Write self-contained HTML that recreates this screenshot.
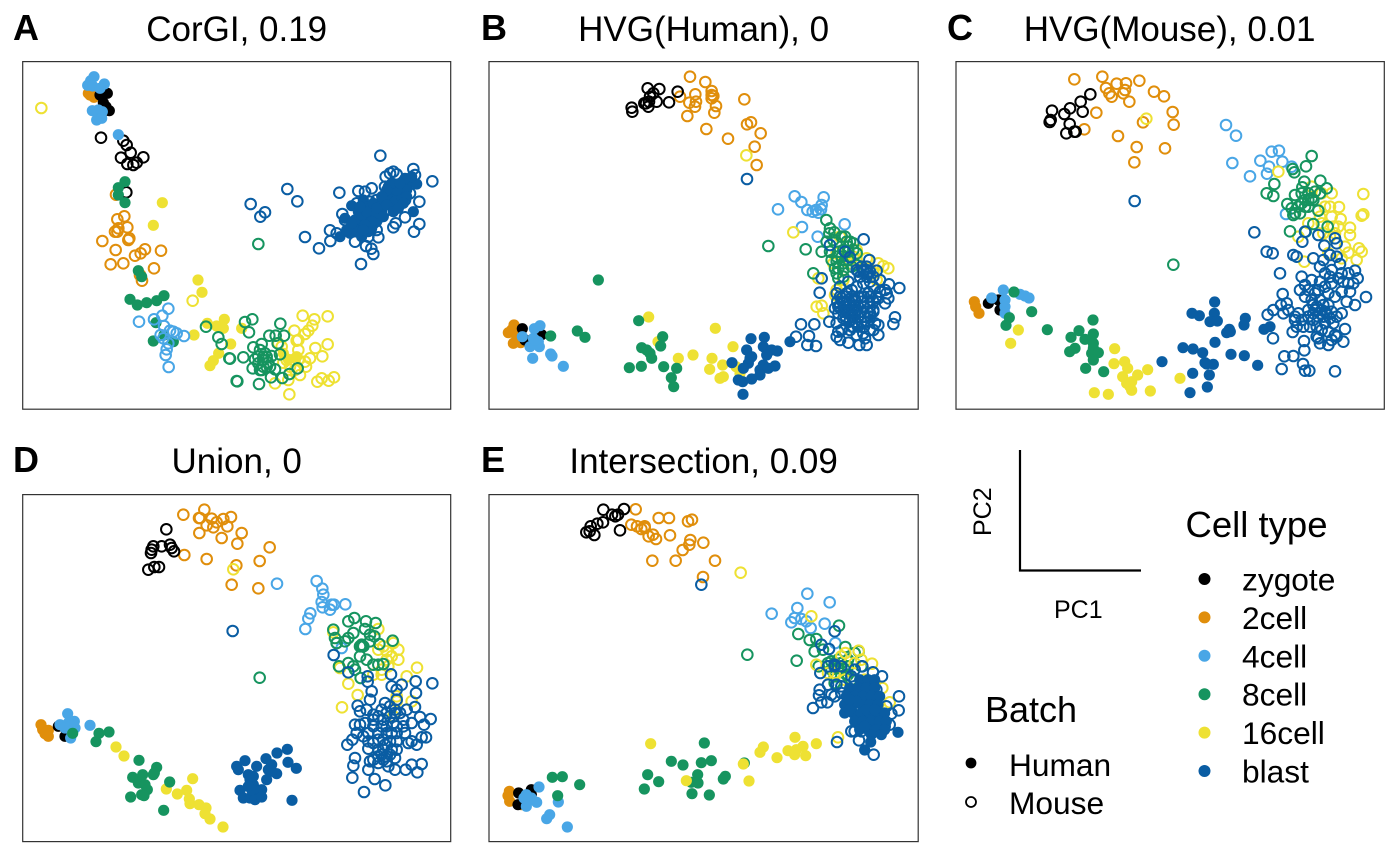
<!DOCTYPE html>
<html><head><meta charset="utf-8"><title>PCA panels</title>
<style>html,body{margin:0;padding:0;background:#fff}svg{display:block}text{font-family:"Liberation Sans",Arial,sans-serif;fill:#000}</style>
</head><body>
<svg id="chart" width="1400" height="865" viewBox="0 0 1400 865">
<g fill="none" stroke="#333" stroke-width="1.2">
<rect x="22.7" y="61.6" width="428" height="347.6"/>
<rect x="489" y="61.6" width="429.2" height="347.6"/>
<rect x="956" y="61.6" width="428.3" height="347.6"/>
<rect x="22.7" y="494.6" width="428" height="347"/>
<rect x="489" y="494.6" width="429.2" height="347"/>
</g>
<g id="points"></g>
<g font-size="36" font-weight="bold" style="font-weight:bold">
<text x="13" y="40">A</text>
<text x="481" y="40">B</text>
<text x="947" y="40">C</text>
<text x="13" y="472">D</text>
<text x="481" y="472">E</text>
</g>
<g font-size="35" text-anchor="middle">
<text x="236.7" y="41">CorGI, 0.19</text>
<text x="703.6" y="41">HVG(Human), 0</text>
<text x="1169.6" y="41">HVG(Mouse), 0.01</text>
<text x="236.7" y="473">Union, 0</text>
<text x="703.6" y="473">Intersection, 0.09</text>
</g>
<g>
<path d="M1020 450V570.5H1141" fill="none" stroke="#000" stroke-width="2.2"/>
<text x="1054" y="618" font-size="25">PC1</text>
<text transform="translate(991 536) rotate(-90)" font-size="25">PC2</text>
</g>
<g>
<text x="1185.5" y="537" font-size="36.5">Cell type</text>
<g id="typeLegend" font-size="31.7"></g>
</g>
<g>
<text x="985" y="722" font-size="36">Batch</text>
<circle cx="971" cy="763" r="5.4" fill="#000"/>
<text x="1009" y="776" font-size="31.7">Human</text>
<circle cx="971" cy="802" r="5" fill="none" stroke="#000" stroke-width="1.8"/>
<text x="1009" y="814" font-size="31.7">Mouse</text>
</g>
</svg>
<script>
const cellTypes = ['zygote','2cell','4cell','8cell','16cell','blast'];
const typeColors = ['#000000','#E08E0B','#49A6E6','#16945F','#EEE133','#0A5DA3'];

// Panel A (left view)
const aZygoteM=[[243,233],[310,242],[320,255],[332,278],[303,293],[370,292],[322,312],[340,315],[350,308],[319,397]];
const aZygoteH=[[262,100],[250,128],[258,140],[268,152],[240,105]];
const a2cellH=[[205,100],[222,112],[240,100],[220,95],[210,105],[232,100]];
const a2cellM=[[288,404],[313,469],[292,478],[322,502],[295,505],[285,515],[292,515],[328,535],[325,540],[247,543],[287,570],[375,568],[362,580],[345,587],[423,572],[272,613],[310,610],[402,625],[360,645],[366,662]];
const a4cellH=[[222,50],[212,62],[203,76],[218,78],[253,72],[240,85],[235,150],[217,152],[247,155],[230,180],[245,175],[295,224]];
const a4cellM=[[445,746],[357,785],[402,778],[427,767],[432,798],[422,825],[450,812],[470,820],[492,828],[445,850],[440,868],[437,885],[446,921],[430,835],[460,815]];
const a8cellH=[[315,365],[295,383],[295,405],[315,428],[355,632],[365,650],[330,718],[352,735],[380,728],[410,722],[432,707],[408,788],[400,843],[432,825],[460,845]];
const a8cellM=[[558,800],[595,832],[605,852],[628,895],[650,963]];
const a16cellH=[[427,428],[400,496],[534,660],[546,697],[522,825],[562,790],[613,778],[590,798],[610,805],[632,852],[596,880],[580,902],[570,917],[665,805]];
const a16cellM=[[64,144],[518,722]];
// Panel A (right view)
const ar8cellM=[[45,546],[67,538],[57,577],[151,551],[118,587],[137,587],[162,587],[143,610],[70,622],[95,612],[90,630],[105,640],[125,648],[150,643],[40,652],[0,656],[75,658],[85,670],[100,660],[115,668],[68,685],[95,690],[110,680],[135,688],[203,685],[178,702],[157,714],[123,712],[22,724],[87,732],[85,312],[100,650],[85,650],[120,680],[100,680],[110,650],[90,690]];
const ar16cellM=[[218,527],[293,529],[253,538],[247,557],[235,572],[225,582],[193,572],[200,602],[205,600],[293,613],[256,624],[277,649],[205,630],[240,655],[225,665],[228,680],[205,660],[190,660],[170,660],[160,668],[210,705],[175,720],[135,730],[178,763],[262,725],[275,715],[296,722],[312,712],[145,610],[155,620],[180,680],[195,690]];
const ar16cellH=[[175,658],[200,650],[160,640]];
const arBlastM=[[451,47],[172,147],[202,184],[62,192],[105,217],[91,230],[225,291],[267,325],[301,303],[300,271],[328,158],[393,372],[430,342],[424,326],[408,318],[607,124],[568,185],[568,252],[552,275],[550,87],[555,105],[490,95],[500,103],[467,110],[425,145],[405,155],[385,153],[380,190],[337,222],[345,240],[320,280],[375,305],[445,292],[490,262],[497,250],[525,232],[525,180],[540,160],[465,140],[480,100],[400,200],[420,185],[440,180],[460,170],[475,160],[490,150],[510,140],[520,125],[410,240],[430,250],[450,230],[470,210],[490,200],[510,190],[395,280],[415,290],[440,270]];
const arBlastH=[[365,197],[345,235],[330,290],[360,280],[380,260],[390,235],[405,215],[420,230],[400,250],[410,270],[395,290],[430,210],[445,195],[460,185],[475,165],[490,175],[505,165],[520,150],[535,130],[560,132],[550,215],[475,140],[510,195],[455,215],[440,245],[425,265],[400,180],[415,200],[385,215],[375,240],[395,225],[410,215],[430,190],[450,200],[465,190],[480,185],[495,185],[515,170],[530,150],[500,150],[485,130],[470,150],[455,170],[440,220],[425,245],[405,255],[385,275],[370,265],[415,275],[440,205],[470,195],[530,170],[520,190],[490,215],[505,205],[545,110],[525,115],[510,130],[460,230],[390,200],[400,270],[350,270],[365,250]];

// Panel B
const bZygoteM=[[425,143],[427,155],[463,130],[473,85],[508,87],[563,95],[537,127],[500,125],[480,110],[490,100],[475,140],[468,130],[477,125]];
const bZygoteH=[[97,806],[155,824],[105,840]];
const b2cellM=[[600,50],[646,66],[665,93],[616,103],[570,110],[665,105],[670,108],[665,115],[678,138],[598,128],[618,125],[615,140],[673,158],[592,168],[763,118],[771,193],[783,187],[812,220],[649,207],[714,236],[794,260],[800,315]];
const b2cellH=[[72,795],[55,818],[65,810],[70,850],[92,848],[80,830]];
const b4cellM=[[914,409],[934,426],[1001,412],[864,448],[995,435],[952,450],[968,455],[985,458],[978,450],[993,448],[936,501],[1064,493],[983,530]];
const b4cellH=[[150,797],[133,806],[97,830],[130,835],[145,845],[120,860],[148,860],[128,895],[182,882],[186,888],[220,919],[135,840]];
const b8cellM=[[1009,480],[1020,505],[1018,520],[1033,517],[835,558],[947,568],[1010,545],[995,575],[1020,575],[1065,530],[1080,545],[1090,550],[1060,570],[1075,575],[1040,605],[1060,610],[1045,625],[1060,630],[1085,620],[1045,655],[1060,650],[970,640],[1100,615],[1030,540],[1040,590],[1055,590],[1070,545],[1090,570],[1055,530],[1040,640],[1075,600],[1100,580],[1025,600],[1035,625],[1045,575],[1075,560]];
const b8cellH=[[325,660],[446,782],[518,830],[262,813],[285,832],[182,828],[455,863],[470,870],[480,880],[485,895],[512,858],[418,923],[454,919],[521,920],[560,925],[544,953],[551,980]];
const b16cellM=[[769,286],[910,517],[1030,610],[1100,570],[1130,595],[1165,610],[1180,618],[1195,625],[1040,690],[1035,705],[980,740],[995,737],[1000,760],[985,655],[1160,660],[1050,530],[1090,590],[1080,610],[1060,660],[1040,580],[1100,600],[1150,640]];
const b16cellH=[[476,771],[504,845],[565,895],[609,885],[676,805],[729,860],[666,895],[698,915],[659,928],[738,920],[700,950],[690,955],[750,940]];
const bBlastM=[[771,357],[1121,538],[1020,555],[1065,575],[1080,592],[1138,600],[995,655],[989,698],[1228,684],[1197,673],[1160,632],[1190,700],[1185,730],[1215,772],[1210,792],[933,793],[973,793],[1018,785],[918,830],[957,828],[952,855],[978,858],[1040,830],[1050,840],[1075,848],[1108,855],[1130,855],[1165,825],[1165,795],[1155,790],[1040,700],[1055,715],[1045,740],[1060,730],[1070,700],[1085,690],[1100,680],[1120,670],[1140,665],[1150,680],[1135,700],[1115,710],[1095,720],[1080,735],[1065,750],[1045,760],[1060,775],[1085,760],[1100,750],[1120,740],[1150,725],[1165,715],[1170,695],[1100,630],[1120,630],[1110,650],[1135,640],[1080,780],[1100,790],[1125,770],[1140,760],[1080,810],[1100,825],[1120,820],[1055,810],[1050,680],[1075,665],[1035,745],[1150,750],[1090,770],[1105,770],[1095,740],[1085,750],[1075,760],[1090,800],
[1050,710],[1068,710],[1086,710],[1104,710],[1122,710],[1140,710],[1158,710],[1042,725],[1060,725],[1078,725],[1096,725],[1114,725],[1132,725],[1150,725],[1050,740],[1068,740],[1086,740],[1104,740],[1122,740],[1140,740],[1060,755],[1078,755],[1096,755],[1114,755],[1132,755],[1150,755],[1068,770],[1086,770],[1104,770],[1122,770],[1140,770],[1078,785],[1096,785],[1114,785],[1132,785],[1086,800],[1104,800],[1122,800],[1115,620],[1130,620],[1105,635],[1120,635],[1140,635],[1110,650],[1130,650],[1150,650],[1170,660],[1185,690],[1195,715],[1040,790],[1045,815],[1140,810],[1150,810],[1125,835]];
const bBlastH=[[783,836],[823,832],[770,870],[820,860],[862,873],[900,845],[845,870],[785,890],[830,885],[726,908],[775,910],[820,915],[855,918],[760,925],[810,930],[835,925],[745,960],[758,965],[785,957],[810,945],[759,1003],[780,895]];

// Panel C
const cZygoteM=[[406,103],[377,125],[345,145],[291,152],[328,162],[383,155],[287,180],[284,186],[344,192],[334,220],[358,215],[362,215]];
const cZygoteH=[[100,730],[135,750],[130,720]];
const c2cellM=[[358,58],[442,50],[453,84],[485,71],[513,70],[553,62],[510,90],[505,100],[463,100],[470,110],[597,95],[627,109],[523,125],[424,158],[653,156],[656,194],[564,187],[388,208],[489,228],[545,261],[630,265],[538,307]];
const c2cellH=[[58,725],[62,740],[72,760]];
const c4cellM=[[813,195],[843,227],[832,309],[950,275],[972,272],[982,305],[916,302],[942,320],[936,341],[885,349],[1010,320],[993,462]];
const c4cellH=[[145,690],[110,714],[195,703],[210,708],[222,714],[150,720],[150,740],[150,760]];
const c8cellM=[[1070,288],[1053,319],[1013,327],[1018,337],[1048,365],[958,372],[1096,362],[935,400],[955,408],[1042,382],[1115,385],[1020,405],[1060,400],[1080,395],[1075,420],[997,432],[1040,430],[1060,440],[1090,452],[1020,460],[1015,465],[1050,420],[1030,440],[1075,492],[1118,500],[1005,514],[1052,515],[655,614],[1040,400],[1050,440],[1070,415],[1095,400],[1010,445],[1035,460],[1060,420]];
const c8cellH=[[177,696],[230,755],[163,773],[153,796],[277,809],[414,780],[372,812],[348,832],[415,822],[390,838],[415,850],[360,865],[344,875],[415,865],[410,880],[430,878],[415,900],[392,925],[446,935]];
const c16cellM=[[574,176],[970,335],[1225,402],[1225,463],[1220,467],[1100,400],[1130,400],[1125,440],[1152,441],[1157,477],[1130,470],[1185,503],[1185,525],[1212,565],[1220,575],[1180,578],[1205,600],[1048,605],[1030,530],[1060,490],[1100,490],[1140,520],[1070,380],[1150,500],[1120,580],[1090,450],[1095,470],[1110,440],[1135,500],[1105,520],[1170,560],[1160,595],[1125,530]];
const c16cellH=[[190,810],[167,850],[479,866],[477,911],[509,905],[518,925],[578,929],[548,945],[503,950],[530,965],[515,970],[525,980],[530,991],[418,998],[460,1003],[586,993],[675,955]];
const cBlastM=[[539,423],[898,517],[1050,515],[1042,545],[1090,525],[1140,535],[1145,550],[1108,557],[935,575],[953,580],[1015,585],[1025,590],[1075,595],[1125,585],[1145,590],[1155,612],[1105,600],[1095,620],[1130,630],[1160,640],[1200,632],[1208,655],[975,640],[1040,650],[1050,675],[1035,690],[1095,665],[1130,670],[1165,665],[1185,695],[1200,735],[1233,711],[983,702],[1050,710],[1070,720],[1095,720],[1120,700],[1175,725],[995,730],[978,735],[955,750],[938,764],[985,760],[1020,770],[1060,750],[1080,750],[1100,750],[1130,755],[1020,780],[1045,800],[1075,780],[1110,790],[1135,790],[1170,807],[1013,816],[1085,830],[1140,825],[1165,845],[1120,855],[1047,843],[1048,871],[1015,888],[988,889],[954,835],[1044,912],[980,927],[1050,932],[1063,932],[1140,934],[1090,835],[1060,770],[1085,800],[1105,770],
[1070,660],[1110,640],[1150,655],[1180,670],[1060,690],[1090,690],[1140,710],[1160,695],[1085,740],[1105,735],[1115,760],[1090,770],[1065,800],[1100,810],[1120,815],[1130,840],[1095,850],[1025,800],[1040,780],[1145,770],[1160,760],[1000,750],[1030,760],[1120,735],[1080,700],[1110,680],[1125,650],[1180,640],[1195,670],[1145,830],[1075,735],[1095,760],[1110,755],[1125,775],[1075,760]];
const cBlastH=[[779,726],[711,760],[733,767],[778,760],[765,785],[787,783],[871,775],[867,795],[823,808],[815,818],[826,815],[945,800],[927,808],[780,847],[684,863],[714,867],[743,878],[828,883],[868,887],[621,905],[750,908],[775,913],[755,912],[908,916],[713,940],[763,945],[757,981],[705,998]];

// Panel D
const dZygoteM=[[439,109],[400,160],[425,160],[450,155],[393,180],[395,170],[455,165],[462,175],[385,230],[403,222],[417,222]];
const dZygoteH=[[115,700],[135,730]];
const d2cellM=[[490,65],[553,50],[537,75],[540,75],[575,77],[610,78],[633,72],[590,88],[560,97],[580,103],[622,100],[538,120],[605,135],[665,120],[652,152],[749,163],[493,186],[560,198],[719,204],[649,217],[635,275],[715,286]];
const d2cellH=[[63,695],[68,710],[85,712],[75,722],[85,730]];
const d4cellM=[[771,272],[890,264],[907,287],[910,305],[905,327],[908,343],[935,335],[930,350],[942,335],[976,334],[871,361],[865,377],[856,408],[965,465],[950,450]];
const d4cellH=[[143,662],[163,685],[120,695],[145,690],[155,715],[152,735],[210,697],[165,705],[135,705],[150,700]];
const d8cellM=[[985,385],[1003,375],[1038,385],[1067,390],[1035,408],[940,410],[1000,420],[945,435],[950,450],[985,435],[975,445],[1050,425],[1063,430],[1025,460],[1118,443],[1078,453],[1020,490],[1040,500],[985,510],[1000,520],[957,520],[1005,530],[1060,515],[1075,515],[1090,513],[1022,555],[1020,460],[719,554],[1030,460],[1025,455],[1050,445]];
const d8cellH=[[158,721],[237,721],[267,717],[228,746],[357,802],[410,823],[403,840],[400,845],[338,853],[368,845],[449,867],[355,870],[375,875],[382,890],[365,905],[372,908],[332,912],[431,952]];
const d16cellM=[[640,229],[1075,408],[940,418],[1135,470],[1100,475],[1075,470],[1135,500],[1100,500],[1191,524],[1160,550],[1085,545],[985,572],[1013,606],[966,643],[1130,610],[1130,625],[1175,625],[1120,670],[960,525],[1090,460],[1115,490],[1060,545],[1105,520],[1085,530],[1120,450]];
const d16cellH=[[288,762],[312,789],[518,857],[439,888],[500,892],[472,903],[508,918],[510,932],[537,935],[558,945],[555,962],[570,978],[609,1002]];
const dBlastM=[[638,414],[941,486],[985,538],[1043,550],[1113,544],[1043,566],[1187,565],[1237,571],[1145,575],[1115,580],[1130,590],[1188,600],[1055,595],[1050,620],[1130,620],[1013,638],[1020,655],[1095,630],[1185,642],[1232,678],[1200,672],[1175,690],[1212,695],[1005,695],[1020,695],[1060,665],[1075,670],[1100,660],[1125,650],[1060,700],[1085,700],[1120,690],[1150,680],[1030,730],[1045,720],[1075,740],[1100,720],[1130,720],[1165,750],[1190,755],[1205,733],[1218,733],[982,755],[997,740],[1045,767],[1090,770],[1130,770],[1100,790],[1005,795],[1000,818],[1060,800],[1075,810],[1105,820],[1125,830],[1157,830],[1175,815],[1205,813],[1192,838],[1045,830],[997,854],[1064,858],[1096,877],[1032,897],[1050,805],
[1040,650],[1085,650],[1110,670],[1140,660],[1160,650],[1060,680],[1090,680],[1130,700],[1100,700],[1075,720],[1115,720],[1090,740],[1130,745],[1060,750],[1110,745],[1075,770],[1115,770],[1075,790],[1090,800],[1125,795],[1035,690],[1155,720],[1175,745],[1045,745],[1010,720],[1150,700],[1110,640],[1125,660],[1095,755],[1110,785],[1085,785],[1100,805]];
const dBlastH=[[802,769],[771,780],[738,797],[675,803],[650,820],[655,830],[710,820],[755,815],[804,808],[829,826],[685,845],[770,842],[745,830],[740,860],[690,860],[700,875],[660,892],[725,890],[710,895],[670,915],[690,915],[705,920],[725,912],[816,922],[700,850],[695,890],[685,880],[755,835]];

// Panel E
const eZygoteM=[[346,50],[408,48],[372,65],[390,65],[382,70],[345,88],[328,92],[308,100],[295,118],[305,115],[319,126],[396,112]];
const eZygoteH=[[92,900],[130,890],[90,935],[130,905]];
const e2cellM=[[443,49],[512,75],[543,75],[600,85],[612,80],[430,95],[447,100],[470,100],[470,105],[460,108],[495,125],[482,130],[504,138],[546,127],[607,141],[604,155],[646,149],[584,171],[493,203],[563,203],[681,203],[645,252]];
const e2cellH=[[64,895],[60,908],[65,925],[100,935]];
const e4cellM=[[958,302],[1025,328],[851,362],[928,345],[920,375],[910,388],[940,378],[955,385],[968,405],[1010,392],[1042,450]];
const e4cellH=[[153,882],[115,905],[120,925],[130,915],[146,928],[115,940],[211,927],[185,965],[176,977],[238,1002],[108,915]];
const e8cellM=[[1053,398],[931,423],[965,441],[985,438],[980,475],[1072,462],[1112,475],[778,485],[926,503],[992,520],[1020,520],[1040,510],[1060,510],[1080,520],[1040,550],[1080,545],[1120,520],[1020,510],[1030,530],[1050,500],[1070,530],[1060,550],[1040,570],[1090,560],[1005,470],[1100,480],[1075,545],[1030,505],[1050,525],[1080,500]];
const e8cellH=[[649,750],[550,805],[585,816],[640,809],[670,803],[769,810],[479,845],[512,866],[469,888],[629,845],[610,868],[630,870],[612,902],[664,906],[712,850],[706,858],[193,853],[223,851],[275,875],[209,908]];
const e16cellM=[[758,239],[970,370],[1112,473],[1072,480],[985,515],[1152,512],[1040,540],[1100,510],[1183,585],[1205,628],[1050,733],[1160,570],[1100,560],[1060,490],[1120,500],[1020,540],[1130,560],[1150,590],[1170,640],[1070,560]];
const e16cellH=[[488,752],[921,733],[826,762],[816,778],[985,752],[945,760],[900,773],[925,770],[920,785],[867,794],[953,788],[766,813],[783,864],[595,863]];
const eBlastM=[[1040,415],[1000,455],[1023,468],[1123,520],[1040,515],[997,540],[1155,538],[1182,550],[1020,575],[995,590],[993,607],[1030,605],[1000,628],[1018,628],[975,645],[1233,610],[1232,652],[1210,662],[640,275],[1047,747],[1157,785],[1113,742],[1100,715],[1120,715],[1190,700],[1205,695],[1100,560],[1060,580],[1045,575],[1060,600],[1040,610],[1195,640],[1060,520],[1020,520],[1090,715],[1040,520],[1155,570],[1165,590],[1100,530],[1090,550]];
const eBlastH=[[1115,560],[1140,560],[1160,560],[1085,585],[1110,585],[1135,585],[1160,585],[1075,610],[1100,610],[1125,610],[1150,610],[1175,610],[1070,635],[1095,635],[1120,635],[1145,635],[1170,635],[1070,660],[1095,660],[1120,660],[1145,660],[1170,660],[1190,660],[1100,685],[1125,685],[1150,685],[1175,685],[1195,685],[1115,710],[1140,710],[1165,710],[1190,710],[1150,725],[1180,725],[1230,718],[1148,747],[1130,771],[1085,650],[1105,625],[1135,650],[1160,650],[1085,620],[1130,700]];

// Axis functions: each view has its own PC1/PC2 origin
const views = {a:[20,60], ar:[230,140], b:[490,60], c:[955,60], d:[20,493], e:[488,493]};
function xAxis(view, v){ return views[view][0] + v/3; }
function yAxis(view, v){ return views[view][1] + v/3; }

// Layer order: 2cell, zygote, 4cell, 16cell, 8cell, blast
const layers = [
 ['a','2cell','mouse',a2cellM],['a','2cell','human',a2cellH],['a','zygote','mouse',aZygoteM],['a','zygote','human',aZygoteH],['a','4cell','human',a4cellH],['a','16cell','mouse',a16cellM],['a','16cell','human',a16cellH],['ar','16cell','human',ar16cellH],['ar','16cell','mouse',ar16cellM],['a','8cell','human',a8cellH],['a','4cell','mouse',a4cellM],['a','8cell','mouse',a8cellM],['ar','8cell','mouse',ar8cellM],['ar','blast','mouse',arBlastM],['ar','blast','human',arBlastH],
 ['b','2cell','mouse',b2cellM],['b','2cell','human',b2cellH],['b','zygote','mouse',bZygoteM],['b','zygote','human',bZygoteH],['b','4cell','mouse',b4cellM],['b','4cell','human',b4cellH],['b','16cell','mouse',b16cellM],['b','16cell','human',b16cellH],['b','8cell','mouse',b8cellM],['b','8cell','human',b8cellH],['b','blast','mouse',bBlastM],['b','blast','human',bBlastH],
 ['c','2cell','mouse',c2cellM],['c','2cell','human',c2cellH],['c','zygote','mouse',cZygoteM],['c','zygote','human',cZygoteH],['c','4cell','mouse',c4cellM],['c','4cell','human',c4cellH],['c','16cell','mouse',c16cellM],['c','16cell','human',c16cellH],['c','8cell','mouse',c8cellM],['c','8cell','human',c8cellH],['c','blast','mouse',cBlastM],['c','blast','human',cBlastH],
 ['d','2cell','mouse',d2cellM],['d','2cell','human',d2cellH],['d','zygote','mouse',dZygoteM],['d','zygote','human',dZygoteH],['d','4cell','mouse',d4cellM],['d','4cell','human',d4cellH],['d','16cell','mouse',d16cellM],['d','16cell','human',d16cellH],['d','8cell','mouse',d8cellM],['d','8cell','human',d8cellH],['d','blast','mouse',dBlastM],['d','blast','human',dBlastH],
 ['e','2cell','mouse',e2cellM],['e','2cell','human',e2cellH],['e','zygote','mouse',eZygoteM],['e','zygote','human',eZygoteH],['e','4cell','mouse',e4cellM],['e','4cell','human',e4cellH],['e','8cell','mouse',e8cellM],['e','8cell','human',e8cellH],['e','16cell','mouse',e16cellM],['e','16cell','human',e16cellH],['e','blast','mouse',eBlastM],['e','blast','human',eBlastH]
];

const NS = 'http://www.w3.org/2000/svg';
const pointsLayer = document.getElementById('points');
layers.forEach(function(layer){
  const view = layer[0], type = layer[1], batch = layer[2], pts = layer[3];
  const color = typeColors[cellTypes.indexOf(type)];
  pts.forEach(function(p){
    const c = document.createElementNS(NS,'circle');
    c.setAttribute('cx', xAxis(view,p[0]).toFixed(2));
    c.setAttribute('cy', yAxis(view,p[1]).toFixed(2));
    if(batch==='human'){
      c.setAttribute('r','5.6');
      c.setAttribute('fill',color);
    } else {
      c.setAttribute('r','5.3');
      c.setAttribute('fill','none');
      c.setAttribute('stroke',color);
      c.setAttribute('stroke-width','2');
    }
    
    
    pointsLayer.appendChild(c);
  });
});

const typeLegend = document.getElementById('typeLegend');
cellTypes.forEach(function(t,i){
  const dot = document.createElementNS(NS,'circle');
  dot.setAttribute('cx','1204.5');
  dot.setAttribute('cy',String(579+i*38.4));
  dot.setAttribute('r','6');
  dot.setAttribute('fill',typeColors[i]);
  
  
  typeLegend.appendChild(dot);
  const label = document.createElementNS(NS,'text');
  label.setAttribute('x','1242');
  label.setAttribute('y',String(590.5+i*38.4));
  label.textContent = t;
  
  
  typeLegend.appendChild(label);
});
</script>
</body></html>
